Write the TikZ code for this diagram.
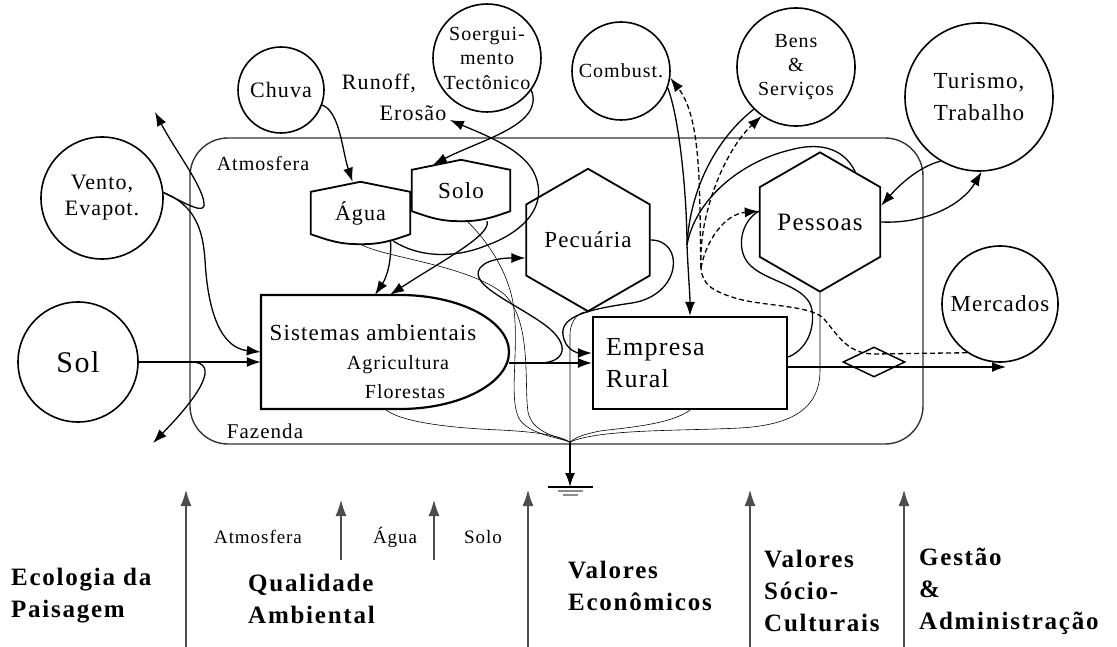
\documentclass[tikz,border=0pt]{standalone}
\usepackage{fontspec}
\setmainfont{Liberation Serif}[LetterSpace=5]
\newfontfamily\capfont{Liberation Serif}[LetterSpace=7]
\usetikzlibrary{arrows.meta,shapes.geometric}
\newcommand{\fsz}[2]{\fontsize{#1}{#2}\selectfont}
\tikzset{
  outer/.style={circle, draw, line width=1.6pt, inner sep=0pt, align=center},
  hexa/.style={regular polygon, regular polygon sides=6, shape border rotate=30, draw, line width=1.8pt, inner sep=0pt},
  feed/.style={line width=1.3pt},
  flow/.style={feed, -{Latex[length=14pt,width=10pt]}},
  money/.style={line width=1.3pt, dash pattern=on 5pt off 3pt},
  moneyflow/.style={money, -{Latex[length=14pt,width=10pt]}},
  leak/.style={line width=0.6pt},
  axis/.style={line width=1.1pt, black!70, -{Latex[length=16pt,width=11pt]}},
  theme/.style={anchor=west, align=left, inner sep=0pt, font=\capfont\bfseries\fsz{25}{32}},
}
\begin{document}
\begin{tikzpicture}[x=1pt, y=-1pt]
    \useasboundingbox (0,0) rectangle (1117,647);
    \node[draw, rounded corners=38pt, line width=1.4pt, black!80, minimum width=733pt, minimum height=306pt] (farm) at (556.5,291) {};
    \node[font=\fsz{20}{24}] (atmo) at (263,164) {Atmosfera};
    \node[font=\fsz{21}{24}] (faz) at (265,431) {Fazenda};

    \node[outer, minimum size=122pt, font=\fsz{22}{26}] (vento) at (102,198) {Vento,\\Evapot.};
    \node[outer, minimum size=120pt, font=\fsz{30}{34}] (sol) at (78,362) {Sol};
    \node[outer, minimum size=86pt, font=\fsz{22}{26}] (chuva) at (281,90) {Chuva};
    \node[outer, minimum size=108pt, inner sep=-3pt, font=\fsz{20}{24.5}] (soerg) at (487,58) {Soergui-\\mento\\Tectônico};
    \node[outer, minimum size=98pt, font=\fsz{20}{24}] (comb) at (621,71) {Combust.};
    \node[outer, minimum size=118pt, font=\fsz{20}{24}] (bens) at (796,67) {Bens\\\&\\Serviços};
    \node[outer, minimum size=148pt, font=\fsz{23}{32}] (tur) at (979,97) {Turismo,\\Trabalho};
    \node[outer, minimum size=116pt, font=\fsz{23}{26}] (mkt) at (1000,304) {Mercados};

    \node[font=\fsz{22}{24}] (runoff) at (379,83) {Runoff,};
    \node[font=\fsz{22}{24}] (erosao) at (413,113) {Erosão};

    \node[minimum width=99pt, minimum height=62pt, font=\fsz{22}{24}] (agua) at (360.5,213) {Água};
    \node[minimum width=98pt, minimum height=61pt, font=\fsz{23}{24}] (solo) at (461,190.5) {Solo};
    \foreach \n in {agua,solo}
        \draw[line width=1.8pt] ([yshift=-10pt]\n.north west) -- (\n.north) -- ([yshift=-10pt]\n.north east)
            -- ([yshift=10pt]\n.south east) .. controls ([xshift=-20pt,yshift=3pt]\n.south east) and ([xshift=20pt]\n.south) .. (\n.south)
            .. controls ([xshift=-20pt]\n.south) and ([xshift=20pt,yshift=3pt]\n.south west) .. ([yshift=10pt]\n.south west) -- cycle;

    \node[hexa, minimum size=114pt, font=\fsz{23}{24}] (pec) at (588,240) {Pecuária};
    \node[hexa, minimum size=124pt, font=\fsz{25}{26}] (pes) at (820,222) {Pessoas};

    \node[minimum width=248pt, minimum height=114pt] (sis) at (385,352) {};
    \draw[line width=2.2pt] (261,295) -- (400,295) .. controls (460,295) and (509,321) .. (509,352)
        .. controls (509,383) and (460,409) .. (400,409) -- (261,409) -- cycle;
    \node[font=\fsz{23}{24}] (sisA) at (373,333) {Sistemas ambientais};
    \node[font=\fsz{20}{24}] (sisB) at (398,365) {Agricultura};
    \node[font=\fsz{20}{24}] (sisC) at (405,392) {Florestas};

    \node[draw, line width=2.2pt, minimum width=194pt, minimum height=92pt, text width=168pt, align=left, inner sep=0pt, font=\fsz{26}{32}] (emp) at (690,363) {Empresa\\Rural};
    \node[diamond, draw, line width=1.5pt, minimum width=62pt, minimum height=30pt, inner sep=0pt] (dia) at (874,362) {};

    \coordinate (evap) at (155,112);
    \coordinate (refl) at (153,443);
    \coordinate (joint) at (687,245);
    \coordinate (cash) at (701,268);
    \coordinate (sink) at (570,442);
    \coordinate (gnd) at (570,487);
    \coordinate (sale) at (1006,367);

    \draw[flow] (sol.east) -- ([yshift=-10pt]sis.west);
    \draw[flow] (sol.east) -- ++(52,0) .. controls +(30,0) and (200,395) .. (refl);
    \draw[flow] (vento.5) .. controls (185,203) and (206,216) .. (204,203) .. controls (202,185) and (175,150) .. (evap);
    \draw[flow] (vento.5) .. controls (195,205) and (203,230) .. (205,260) .. controls (208,315) and (222,348) .. (sis.west);
    \draw[flow] (chuva.-20) .. controls (340,112) and (342,150) .. ([xshift=-8pt]agua.north);
    \draw[flow] (soerg.-36) .. controls (545,125) and (480,140) .. ([xshift=-28pt,yshift=-5pt]solo.north);
    \draw[flow] ([xshift=33pt,yshift=3pt]agua.south) .. controls (420,258) and (455,258) .. (485,246)
        .. controls (525,232) and (548,205) .. (535,175) .. controls (525,150) and (485,135) .. ([yshift=-7pt]erosao.east);
    \draw[flow] ([xshift=30pt,yshift=4pt]agua.south) .. controls (392,265) and (385,280) .. ([xshift=-10pt]sis.north);
    \draw[flow] ([xshift=26pt]solo.south) .. controls (492,235) and (440,262) .. ([xshift=5pt]sis.north);
    \draw[flow] ([yshift=-11pt]sis.east) -- (emp.west);
    \draw[flow] ([xshift=30pt,yshift=-11pt]sis.east) .. controls (565,363) and (572,345) .. (545,325)
        .. controls (515,303) and (468,285) .. (480,268) .. controls (488,257) and (515,258) .. ([yshift=-18pt]pec.west);
    \draw[flow] (pec.east) .. controls (685,240) and (682,295) .. (632,303) .. controls (590,309) and (560,316) .. (563,335)
        .. controls (565,350) and (578,353) .. ([yshift=10pt]emp.west);

    \draw[leak] (pec.south) .. controls (582,310) and (570,318) .. (570,335) -- (sink);
    \draw[leak] (agua.south) .. controls (385,258) and (470,265) .. (505,295) .. controls (532,322) and (524,385) .. (528,412)
        .. controls (532,432) and (555,436) .. (sink);
    \draw[leak] ([xshift=6pt]solo.south) .. controls (482,235) and (510,270) .. (514,310) .. controls (519,352) and (508,402) .. (520,420)
        .. controls (530,434) and (556,437) .. (sink);
    \draw[leak] (sis.south) .. controls (400,422) and (450,428) .. (500,430) .. controls (540,432) and (560,436) .. (sink);
    \draw[leak] (emp.south) .. controls (670,425) and (622,428) .. (600,431) .. controls (585,434) and (576,437) .. (sink);
    \draw[leak] (pes.south) -- (820,370) .. controls (820,410) and (790,425) .. (740,428) .. controls (680,431) and (600,429) .. (sink);
    \draw[flow, line width=1.8pt] (sink) -- (gnd);
    \draw[line width=1.5pt] ([xshift=-22pt]gnd) -- ([xshift=23pt]gnd);
    \draw[line width=1.2pt, black!45] ([xshift=-12pt,yshift=-4pt]gnd) -- ([xshift=13pt,yshift=-4pt]gnd);
    \draw[line width=1.2pt, black!45] ([xshift=-7pt,yshift=-8pt]gnd) -- ([xshift=8pt,yshift=-8pt]gnd);

    \draw[feed] (comb.-20) .. controls (680,120) and (687,200) .. (joint);
    \draw[feed] (bens.225) .. controls (715,140) and (690,190) .. (joint);
    \draw[feed] (pes.55) .. controls (842,145) and (815,143) .. (790,150) .. controls (740,162) and (695,200) .. (joint);
    \draw[flow] (joint) .. controls (688,270) and (690,295) .. (emp.north);

    \draw[money] (mkt.236) -- ([yshift=8pt]dia.center) .. controls (845,354) and (835,330) .. (823,318)
        .. controls (810,305) and (760,306) .. (735,298) .. controls (712,291) and (702,284) .. (cash);
    \draw[moneyflow] (cash) .. controls (699,200) and (703,120) .. (comb.-8);
    \draw[moneyflow] (cash) .. controls (698,215) and (725,150) .. (bens.235);
    \draw[moneyflow] (cash) .. controls (706,240) and (725,214) .. (pes.170);
    \draw[feed] ([yshift=6pt]emp.east) .. controls (806,350) and (815,330) .. (812,310) .. controls (808,285) and (765,282) .. (749,264)
        .. controls (736,250) and (740,222) .. (pes.170);

    \draw[flow] (tur.239) .. controls (915,168) and (895,190) .. (pes.15);
    \draw[flow] (pes.east) .. controls (925,224) and (962,205) .. (tur.272);
    \draw[flow] ([yshift=-4pt]emp.east) -- (sale);

    \foreach \x in {186,528,750,904}
        \draw[axis] (\x,647) -- (\x,490);
    \foreach \x in {341,434}
        \draw[axis] (\x,560) -- (\x,500);
    \node[font=\fsz{19}{22}] (qa) at (258,537) {Atmosfera};
    \node[font=\fsz{19}{22}] (qb) at (395,537) {Água};
    \node[font=\fsz{19}{22}] (qc) at (483,537) {Solo};
    \node[theme] (eco) at (11,596) {Ecologia da\\Paisagem};
    \node[theme] (qual) at (248,599) {Qualidade\\Ambiental};
    \node[theme] (econ) at (568,586) {Valores\\Econômicos};
    \node[theme] (soc) at (764,591) {Valores\\Sócio-\\Culturais};
    \node[theme] (gest) at (919,591) {Gestão\\\&\\Administração};
\end{tikzpicture}
\end{document}
